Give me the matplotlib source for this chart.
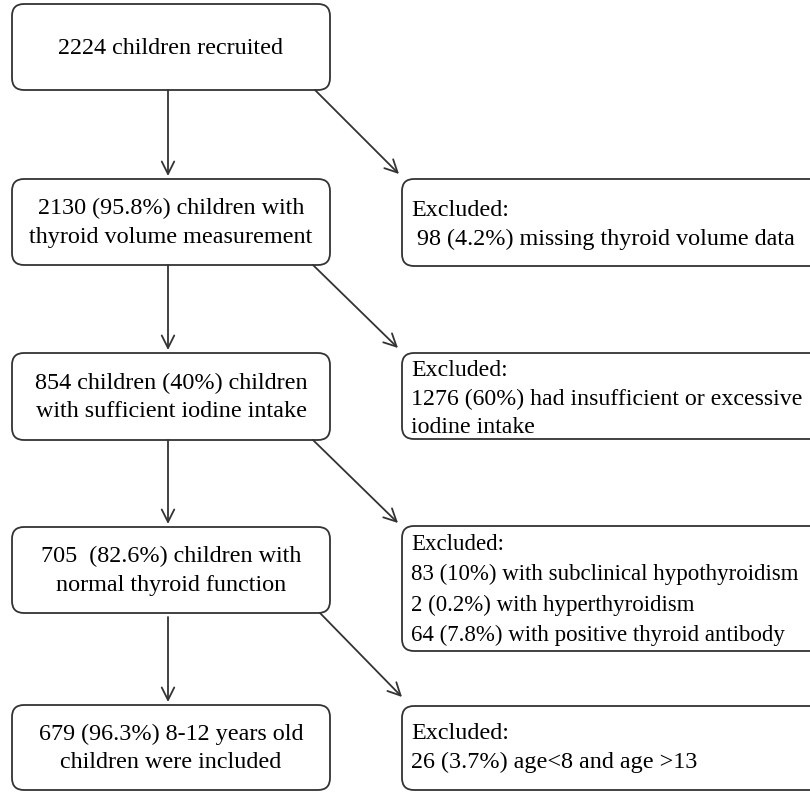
import matplotlib
matplotlib.use("Agg")
import matplotlib.pyplot as plt
from matplotlib.patches import FancyBboxPatch

# ---- content ----
main_texts = [
    "2224 children recruited",
    "2130 (95.8%) children with\nthyroid volume measurement",
    "854 children (40%) children\nwith sufficient iodine intake",
    "705  (82.6%) children with\nnormal thyroid function",
    "679 (96.3%) 8-12 years old\nchildren were included",
]
excl_texts = [
    "Excluded:\n 98 (4.2%) missing thyroid volume data",
    "Excluded:\n1276 (60%) had insufficient or excessive\niodine intake",
    "Excluded:\n83 (10%) with subclinical hypothyroidism\n2 (0.2%) with hyperthyroidism\n64 (7.8%) with positive thyroid antibody",
    "Excluded:\n26 (3.7%) age<8 and age >13",
]

# ---- layout (pixels) ----
W, H = 810, 792
main_boxes = [(12, 4, 330, 90), (12, 179, 330, 265), (12, 353, 330, 440),
              (12, 527, 330, 613), (12, 705, 330, 790)]
excl_boxes = [(402, 179, 830, 266), (402, 353, 830, 439),
              (402, 526, 830, 651), (402, 706, 830, 790)]
excl_text_y = [225, 399, 590, 748]
excl_fs = [17.4, 17.2, 16.5, 17.4]

fig = plt.figure(figsize=(W / 100, H / 100), dpi=100)
ax = fig.add_axes([0, 0, 1, 1])
ax.set_xlim(0, W)
ax.set_ylim(H, 0)
ax.axis("off")

ec = "#333333"
lw = 1.3
font = ["Liberation Serif", "DejaVu Serif"]
fs = 17.4
ls = 1.47

def box(x0, y0, x1, y1):
    p = FancyBboxPatch((x0, y0), x1 - x0, y1 - y0,
                       boxstyle="round,pad=0,rounding_size=12",
                       fc="white", ec=ec, lw=lw, clip_on=True)
    ax.add_patch(p)

for (x0, y0, x1, y1), t in zip(main_boxes, main_texts):
    box(x0, y0, x1, y1)
    ax.text((x0 + x1) / 2, (y0 + y1) / 2 + 1, t, ha="center", va="center",
            fontsize=fs, family=font, color="#000000", linespacing=ls,
            multialignment="center")

for (x0, y0, x1, y1), t, ty, f in zip(excl_boxes, excl_texts, excl_text_y, excl_fs):
    box(x0, y0, x1, y1)
    ax.text(x0 + 9, ty, t, ha="left", va="center",
            fontsize=f, family=font, color="#000000", linespacing=ls * fs / f,
            multialignment="left")

arrow_kw = dict(arrowstyle="->,head_length=0.9,head_width=0.45",
                color=ec, lw=lw, shrinkA=0, shrinkB=0)

# vertical arrows
for i in range(4):
    y_start = main_boxes[i][3] + (4 if i == 3 else 0)
    y_end = main_boxes[i + 1][1] - 3
    ax.annotate("", xy=(168, y_end), xytext=(168, y_start), arrowprops=arrow_kw)

# diagonal arrows
diag = [((315, 90), (399, 174)), ((313, 265), (398, 348)),
        ((313, 440), (398, 523)), ((320, 613), (402, 697))]
for (sx, sy), (ex, ey) in diag:
    ax.annotate("", xy=(ex, ey), xytext=(sx, sy), arrowprops=arrow_kw)

fig.savefig("out.png", dpi=100, facecolor="white")
